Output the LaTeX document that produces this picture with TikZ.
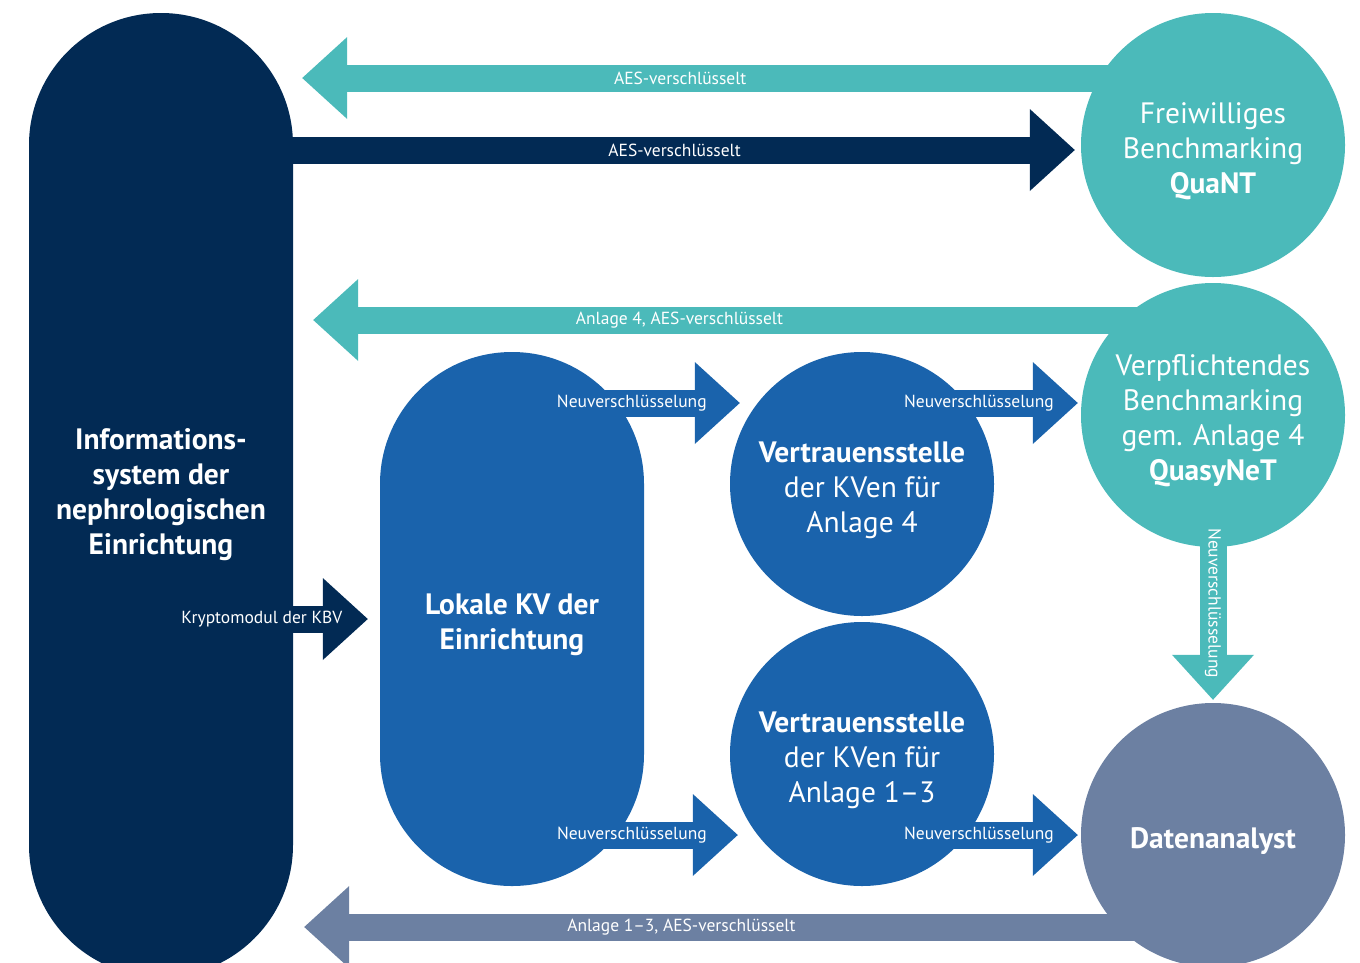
\documentclass[tikz,border=0pt]{standalone}
\usepackage{fontspec}
\setmainfont{PT Sans}
\usetikzlibrary{arrows.meta}
\definecolor{navy}{HTML}{022A54}
\definecolor{kvblue}{HTML}{1A63AC}
\definecolor{qteal}{HTML}{4BBABA}
\definecolor{slate}{HTML}{6C80A2}
\newcommand{\diafont}{\fontsize{29.5}{35}\selectfont}
\newcommand{\arrfont}{\fontsize{17.5}{19}\selectfont}
\newcommand{\lift}{\rule{0pt}{33pt}}
\tikzset{
  circ/.style={circle, minimum size=264pt, inner sep=0pt, text=white, align=center, font=\diafont},
  capsule/.style={rectangle, minimum width=264pt, rounded corners=131.9pt, inner sep=0pt, text=white, align=center, font=\diafont\bfseries},
  bigarrow/.style={line width=27pt, -{Triangle[length=45pt, width=82pt, line width=0pt]}},
  lbl/.style={text=white, font=\arrfont, inner sep=0pt}
}
\begin{document}
\begin{tikzpicture}[x=1pt, y=-1pt]
  \useasboundingbox (0,0) rectangle (1360,962);
  \node[capsule, fill=navy, minimum height=964pt] (info) at (161,495) {Informations-\\system der\\nephrologischen\\Einrichtung};
  \node[capsule, fill=kvblue, minimum height=534pt] (lokal) at (512,619) {\lift Lokale KV der\\Einrichtung};
  \node[circ, fill=qteal] (quant) at (1213,145) {\lift Freiwilliges\\Benchmarking\\\textbf{QuaNT}};
  \node[circ, fill=qteal] (quasy) at (1213,415) {\lift Verpflichtendes\\Benchmarking\\gem. Anlage 4\\\textbf{QuasyNeT}};
  \node[circ, fill=kvblue] (vs4) at (862,484) {\lift\textbf{Vertrauensstelle}\\der KVen für\\Anlage 4};
  \node[circ, fill=kvblue] (vs13) at (862,754) {\lift\textbf{Vertrauensstelle}\\der KVen für\\Anlage 1--3};
  \node[circ, fill=slate, font=\diafont\bfseries] (daten) at (1213,835) {\lift Datenanalyst};

  \coordinate (a1) at ([xshift=9pt, yshift=67pt]info.east |- quant.center);
  \coordinate (a2) at ([xshift=-6pt, yshift=-5pt]quant.west);
  \coordinate (a3) at ([xshift=20pt, yshift=95pt]info.east |- quasy.center);
  \coordinate (a4) at ([xshift=11pt, yshift=-92pt]info.east |- daten.center);
  \coordinate (kr) at ([xshift=-12pt]lokal.west);
  \coordinate (n1) at ([xshift=10pt, yshift=81pt]vs4.west);
  \coordinate (n2) at ([xshift=-3pt, yshift=12pt]quasy.west);
  \coordinate (n3) at ([xshift=8pt, yshift=-81pt]vs13.west);
  \coordinate (n4) at ([xshift=-3pt]daten.west);
  \coordinate (nv) at ([yshift=3pt]daten.north);

  \draw[bigarrow, qteal] (quant.center |- a1) -- (a1) node[lbl, pos=.585] {AES-verschlüsselt};
  \draw[bigarrow, navy] (info.center |- a2) -- (a2) node[lbl, pos=.562] {AES-verschlüsselt};
  \draw[bigarrow, qteal] (quasy.center |- a3) -- (a3) node[lbl, pos=.593] {Anlage 4, AES-verschlüsselt};
  \draw[bigarrow, navy] (info.center |- kr) -- (kr) node[lbl, pos=.488] {Kryptomodul der KBV};
  \draw[bigarrow, slate] (daten.center |- a4) -- (a4) node[lbl, pos=.585] {Anlage 1--3, AES-verschlüsselt};
  \draw[bigarrow, kvblue] (lokal.center |- n1) -- (n1) node[lbl, pos=.526] {Neuverschlüsselung};
  \draw[bigarrow, kvblue] (vs4.center |- n2) -- (n2) node[lbl, pos=.542] {Neuverschlüsselung};
  \draw[bigarrow, kvblue] (lokal.center |- n3) -- (n3) node[lbl, pos=.531] {Neuverschlüsselung};
  \draw[bigarrow, kvblue] (vs13.center |- n4) -- (n4) node[lbl, pos=.542] {Neuverschlüsselung};
  \draw[bigarrow, qteal] ([yshift=20pt]quasy.south) -- (nv) node[lbl, pos=.44, rotate=-90] {Neuverschlüsselung};
\end{tikzpicture}
\end{document}
